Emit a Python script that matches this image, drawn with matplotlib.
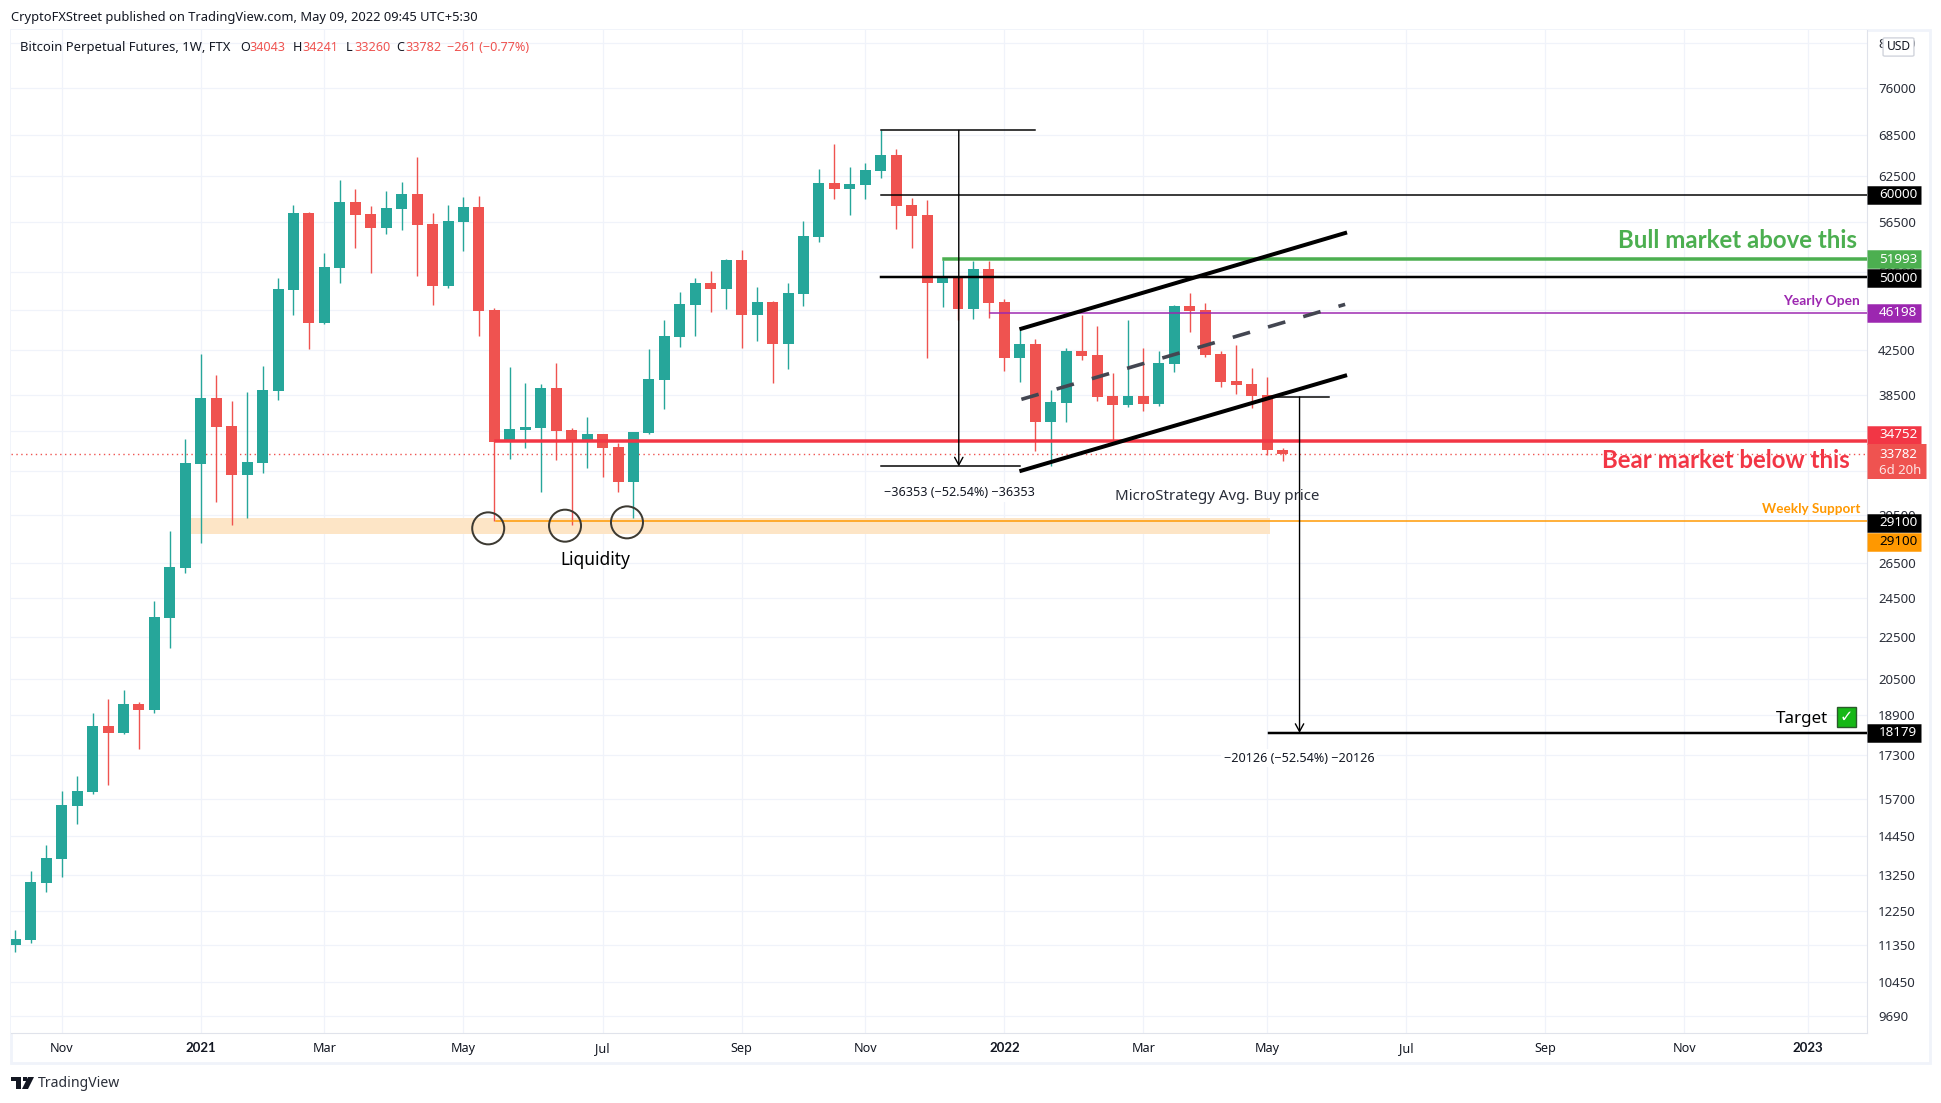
import matplotlib
matplotlib.use('Agg')
import matplotlib.pyplot as plt
from matplotlib.patches import Rectangle, Polygon, FancyBboxPatch

plt.rcParams['font.family'] = ['Noto Sans', 'DejaVu Sans']

W = 1941
H = 1103
PX = 0.72  # points per pixel at dpi 100

opens = [11354, 11481, 13039, 13752, 15457, 15956, 18459, 18174, 19382, 19126, 23457, 26209, 33012, 38218,
         35915, 32216, 33085, 38816, 48566, 57613, 45136, 50995, 59037, 57486, 55727, 58128, 60095, 56225,
         48998, 56474, 58386, 46458, 34663, 35598, 35756, 39076, 35598, 34663, 35284, 34281, 31720, 35362,
         39775, 43757, 46976, 49325, 48673, 51908, 45945, 47290, 43082, 48137, 54626, 61579, 60765, 61307,
         63241, 65526, 58646, 57359, 49325, 50098, 46561, 50882, 47290, 41762, 43082, 36235, 37796, 42420,
         42044, 38386, 37628, 38386, 37712, 41212, 46872, 46458, 42137, 39687, 39423, 38507, 34043]
highs = [11739, 13381, 14175, 15980, 16520, 18999, 19598, 19994, 19468, 24359, 28451, 34895, 42137, 40218,
         37964, 38730, 41029, 49876, 58646, 57742, 52720, 61991, 60765, 58515, 60497, 61717, 65236, 57613,
         58646, 59697, 59827, 46664, 40939, 39510, 39423, 41304, 35756, 36639, 35284, 34586, 35441, 42607,
         45439, 48351, 49876, 50657, 52024, 53073, 48890, 47395, 49325, 56602, 63522, 67145, 63805, 64373,
         69192, 66405, 59565, 59300, 51908, 50098, 51794, 51794, 47604, 44441, 43563, 38902, 42702, 45945,
         44838, 40397, 45439, 42702, 42420, 46976, 48243, 47185, 42420, 42987, 40848, 40040, 34241]
lows = [11188, 11413, 12781, 13214, 14852, 15874, 16194, 18134, 17541, 18999, 21947, 25920, 27704, 30342,
        28832, 29284, 32359, 38048, 45945, 42607, 45037, 49325, 53310, 50432, 54990, 55482, 50098, 46976,
        48783, 52956, 43854, 29090, 33380, 34205, 31024, 33306, 28832, 32720, 32073, 31024, 29284, 35284,
        37296, 42797, 43854, 46252, 46561, 42702, 43370, 39510, 40757, 46872, 54023, 59430, 57359, 59430,
        62267, 55604, 53310, 41762, 46768, 45439, 45539, 45641, 40577, 39599, 33978, 32839, 36235, 41579,
        37964, 34663, 37462, 37130, 37545, 40485, 44245, 41858, 39162, 38558, 37378, 33678, 33260]
closes = [11506, 13058, 13772, 15491, 15980, 18459, 18174, 19382, 19126, 23509, 26268, 33085, 38218, 35836,
          32216, 33158, 38902, 48673, 57613, 45136, 51108, 59037, 57359, 55727, 58256, 60095, 56099, 48998,
          56602, 58386, 46355, 34663, 35676, 35836, 39076, 35519, 34663, 35284, 34205, 31720, 35441, 39863,
          43854, 47080, 49325, 48673, 51908, 45945, 47290, 43082, 48243, 54747, 61579, 60765, 61443, 63382,
          65526, 58515, 57231, 49325, 50098, 46561, 50882, 47185, 41762, 43082, 36235, 37879, 42420, 41950,
          38303, 37628, 38386, 37712, 41304, 46872, 46355, 42044, 39599, 39336, 38386, 34043, 33782]

price_ticks = [84000, 76000, 68500, 62500, 56500, 50500, 46500, 42500, 38500, 35500, 32500, 29500, 26500,
               24500, 22500, 20500, 18900, 17300, 15700, 14450, 13250, 12250, 11350, 10450, 9690]
week_ticks = [3, 12, 20, 29, 38, 47, 55, 64, 73, 81, 90, 99, 108, 116]
week_labels = ['Nov', '2021', 'Mar', 'May', 'Jul', 'Sep', 'Nov', '2022', 'Mar', 'May', 'Jul', 'Sep', 'Nov', '2023']

GREEN = '#26a69a'
RED = '#ef5350'
LINE_RED = '#f23645'
TEXT = '#131722'
BOLD_FONT = ['Lato', 'DejaVu Sans']

fig = plt.figure(figsize=(W / 100, H / 100), dpi=100)


def px(x, y):
    return x / W, 1 - y / H


def ftext(x, y, s, **kw):
    fx, fy = px(x, y)
    kw.setdefault('va', 'center')
    kw.setdefault('color', TEXT)
    fig.text(fx, fy, s, **kw)


# outer frame
fig.add_artist(Rectangle(px(11, 1063), 1919 / W, 1033 / H, transform=fig.transFigure,
                         facecolor='white', edgecolor='#f0f3fa', lw=2, zorder=-1))

ax = fig.add_axes([11 / W, 1 - 1033 / H, 1856 / W, 1003 / H])
ax.set_yscale('log')
ax.set_facecolor('white')
trans = ax.get_yaxis_transform()

colors = [GREEN if c >= o else RED for o, c in zip(opens, closes)]
weeks = list(range(len(opens)))

ax.add_patch(Rectangle((11, 28284), 70.2, 29284 - 28284, facecolor='#fde5c6', edgecolor='none', zorder=1.5))

ax.vlines(weeks, lows, highs, colors=colors, lw=1.0, zorder=3)
ax.bar(weeks, [abs(c - o) for o, c in zip(opens, closes)], bottom=[min(o, c) for o, c in zip(opens, closes)],
       width=0.71, color=colors, linewidth=0, zorder=3)

# last price
ax.axhline(33782, color=RED, lw=1.0, ls=(0, (1, 2.5)), zorder=2)

# horizontal levels
x_end = 120
ax.plot([56, x_end], [60000, 60000], color='black', lw=1.5 * PX, zorder=4)
ax.plot([56, x_end], [50000, 50000], color='black', lw=2.5 * PX, zorder=4)
ax.plot([60.1, x_end], [51993, 51993], color='#4caf50', lw=3.5 * PX, zorder=4)
ax.plot([63.1, x_end], [46198, 46198], color='#9c27b0', lw=1.5 * PX, zorder=4)
ax.plot([31.1, x_end], [34752, 34752], color=LINE_RED, lw=3.5 * PX, zorder=4)
ax.plot([31.1, x_end], [29100, 29100], color='#ff9800', lw=1.5 * PX, zorder=4)
ax.plot([81.1, x_end], [18179, 18179], color='black', lw=2.5 * PX, zorder=4)

# channel
ax.plot([65.1, 86.05], [44572, 55113], color='black', lw=4 * PX, zorder=5)
ax.plot([65.1, 86.05], [32526, 40159], color='black', lw=4 * PX, zorder=5)
ax.plot([65.1, 86.05], [38104, 47045], color='#434651', lw=3.6 * PX, ls=(0, (5, 5.2)), zorder=5)

# measure tools
ax.plot([56, 66], [69192, 69192], color='black', lw=1.5 * PX, zorder=4)
ax.plot([56, 65], [32839, 32839], color='black', lw=1.5 * PX, zorder=4)
ax.annotate('', xy=(61.05, 32839), xytext=(61.05, 69192),
            arrowprops=dict(arrowstyle='->,head_length=0.55,head_width=0.3', color='black', lw=1.0,
                            shrinkA=0, shrinkB=0), zorder=4)
ax.plot([81.1, 85], [38305, 38305], color='black', lw=1.5 * PX, zorder=4)
ax.annotate('', xy=(83.1, 18179), xytext=(83.1, 38305),
            arrowprops=dict(arrowstyle='->,head_length=0.55,head_width=0.3', color='black', lw=1.0,
                            shrinkA=0, shrinkB=0), zorder=4)

# liquidity circles
ax.scatter([30.6, 35.57, 39.58], [28620, 28790, 29004], s=(32 * PX) ** 2, facecolors='none',
           edgecolors='#3d3a32', linewidths=2 * PX, zorder=5)

ax.set_xticks(week_ticks, labels=week_labels)
for lab, name in zip(ax.get_xticklabels(), week_labels):
    lab.set_color(TEXT)
    lab.set_fontsize(12.6 * PX)
    if name.startswith('20'):
        lab.set_family(BOLD_FONT)
        lab.set_fontweight('bold')
        lab.set_fontsize(13.2 * PX)
ax.set_yticks(price_ticks, labels=[str(p) for p in price_ticks])
ax.minorticks_off()
ax.yaxis.tick_right()
ax.tick_params(axis='y', length=0, pad=11 * PX, labelsize=13.2 * PX, labelcolor='#2a2e39')
ax.tick_params(axis='x', length=0, pad=9 * PX)
ax.grid(True, color='#f0f3fa', lw=1.2 * PX)
ax.set_axisbelow(True)
for side in ['top', 'left']:
    ax.spines[side].set_visible(False)
ax.spines['right'].set_color('#e0e3eb')
ax.spines['bottom'].set_color('#e0e3eb')

# price tags on the axis
tag_prices = [60000, 51993, 49850, 46198, 35210, 28990, 27790, 18179]
tag_labels = ['60000', '51993', '50000', '46198', '34752', '29100', '29100', '18179']
tag_colors = ['black', '#4caf50', 'black', '#9c27b0', LINE_RED, 'black', '#ff9800', 'black']
tag_text_colors = ['white', 'white', 'white', 'white', 'white', 'white', 'black', 'white']
for p, s, c, tc in zip(tag_prices, tag_labels, tag_colors, tag_text_colors):
    ax.plot([1, 1 + 54 / 1856], [p, p], transform=trans, color=c, lw=18.5 * PX, solid_capstyle='butt',
            clip_on=False, zorder=6)
    ax.text(1 + 12 / 1856, p, s, transform=trans, color=tc, fontsize=13.4 * PX, va='center', clip_on=False,
            zorder=7)
ax.plot([1, 1 + 59 / 1856], [33207, 33207], transform=trans, color=RED, lw=35 * PX, solid_capstyle='butt',
        clip_on=False, zorder=6)
ax.annotate('33782', xy=(1 + 12 / 1856, 33207), xycoords=trans, xytext=(0, 6.5 * PX), textcoords='offset points',
            color='white', fontsize=13.2 * PX, va='center', annotation_clip=False, zorder=7)
ax.annotate('6d 20h', xy=(1 + 12 / 1856, 33207), xycoords=trans, xytext=(0, -9.5 * PX), textcoords='offset points',
            color='#fde3e2', fontsize=13.2 * PX, va='center', annotation_clip=False, zorder=7)

ax.set_xlim(-0.28, 119.82)
ax.set_ylim(9341, 86474)

# chart notes
white_box = dict(facecolor='white', edgecolor='none', pad=2)
ftext(959, 492.5, '\u221236353 (\u221252.54%) \u221236353', ha='center', fontsize=12.6 * PX, zorder=8, bbox=white_box)
ftext(1299, 758, '\u221220126 (\u221252.54%) \u221220126', ha='center', fontsize=12.6 * PX, zorder=8, bbox=white_box)
ftext(1217, 497, 'MicroStrategy Avg. Buy price', ha='center', fontsize=15.1 * PX, color='#2a2e39', zorder=8)
ftext(595, 560, 'Liquidity', ha='center', fontsize=17.3 * PX, color='black', zorder=8)
ftext(1857, 241, 'Bull market above this', ha='right', fontsize=24 * PX, color='#4caf50', fontweight='bold',
      family=BOLD_FONT, zorder=8)
ftext(1850, 461, 'Bear market below this', ha='right', fontsize=24 * PX, color=LINE_RED, fontweight='bold',
      family=BOLD_FONT, zorder=8)
ftext(1860, 301, 'Yearly Open', ha='right', fontsize=13.8 * PX, color='#9c27b0', fontweight='bold',
      family=BOLD_FONT, zorder=8)
ftext(1860, 509, 'Weekly Support', ha='right', fontsize=13.5 * PX, color='#ff9800', fontweight='bold',
      family=BOLD_FONT, zorder=8)
ftext(1828, 719, 'Target', ha='right', fontsize=17 * PX, color='black', zorder=8)
fig.add_artist(Rectangle(px(1837, 727), 19 / W, 20 / H, transform=fig.transFigure, facecolor='#16b816',
                         edgecolor='#2a5a2a', lw=1, zorder=8))
ftext(1846.5, 717, '\u2713', ha='center', fontsize=16 * PX, color='white', family='DejaVu Sans', zorder=9)

# USD button
fig.add_artist(FancyBboxPatch(px(1885, 55), 27 / W, 16 / H, boxstyle='round,pad=0.001', transform=fig.transFigure,
                              facecolor='white', edgecolor='#d1d4dc', lw=1, zorder=8))
ftext(1898.5, 47, 'USD', ha='center', fontsize=12 * PX, zorder=9)

# header texts
ftext(11, 18, 'CryptoFXStreet published on TradingView.com, May 09, 2022 09:45 UTC+5:30', fontsize=12.9 * PX)
ftext(20, 47.5, 'Bitcoin Perpetual Futures, 1W, FTX', fontsize=13.05 * PX)
legend_x = [240, 293, 345.5, 396]
legend_names = ['O', 'H', 'L', 'C']
legend_vals = ['34043', '34241', '33260', '33782']
for x, n, v in zip(legend_x, legend_names, legend_vals):
    ftext(x, 47.5, n, fontsize=12.6 * PX)
    ftext(x + 9, 47.5, v, fontsize=12.6 * PX, color=RED)
ftext(447, 47.5, '\u2212261 (\u22120.77%)', fontsize=12.6 * PX, color=RED)

# logo
ftext(38, 1083.5, 'TradingView', fontsize=14 * PX, color='#2a2e39')
fig.add_artist(Rectangle(px(11, 1081), 10 / W, 4 / H, transform=fig.transFigure, facecolor='#131722', edgecolor='none'))
fig.add_artist(Rectangle(px(16, 1089), 5 / W, 12 / H, transform=fig.transFigure, facecolor='#131722', edgecolor='none'))
fig.add_artist(Polygon([px(28, 1077), px(34, 1077), px(28, 1089), px(22, 1089)], transform=fig.transFigure,
                       facecolor='#131722', edgecolor='none'))
fig.add_artist(Rectangle(px(22.5, 1081), 4 / W, 4 / H, transform=fig.transFigure, facecolor='#131722', edgecolor='none'))

fig.savefig('out.png', dpi=100)
